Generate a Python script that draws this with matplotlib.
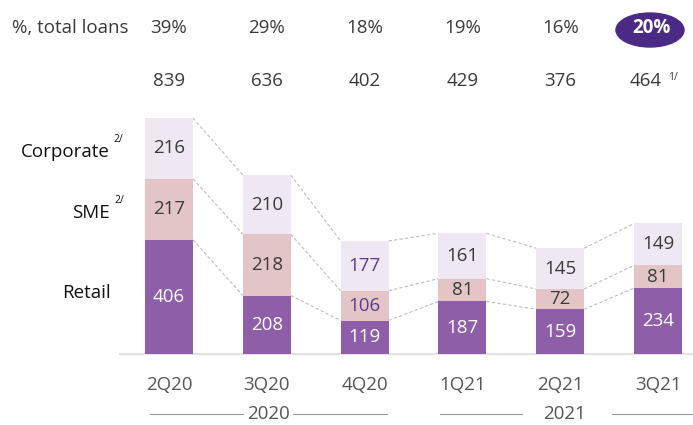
import matplotlib
matplotlib.use("Agg")
import matplotlib.pyplot as plt
from matplotlib.patches import Ellipse
import matplotlib.transforms as mtransforms

plt.rcParams['font.family'] = ['Open Sans', 'DejaVu Sans']

quarters = ["2Q20", "3Q20", "4Q20", "1Q21", "2Q21", "3Q21"]
retail = [406, 208, 119, 187, 159, 234]
sme = [217, 218, 106, 81, 72, 81]
corporate = [216, 210, 177, 161, 145, 149]
totals = [839, 636, 402, 429, 376, 464]
pct_loans = ["39%", "29%", "18%", "19%", "16%", "20%"]
series_labels = ["Retail", "SME", "Corporate"]
years = ["2020", "2021"]

c_retail = "#8F5EA8"
c_sme = "#E3C5C7"
c_corp = "#EFE8F3"
dark = "#3A3A3A"
accent = "#4B2A85"

W, H = 693, 425
fig = plt.figure(figsize=(6.93, 4.25), dpi=100)
ax = fig.add_axes([0, 0, 1, 1])
ax.set_xlim(-1.728, 5.358)
ax.set_ylim(-252.4, 1258.6)
ax.axis('off')

x = list(range(len(quarters)))
w = 0.49
ax.bar(x, retail, width=w, color=c_retail, zorder=2)
ax.bar(x, sme, width=w, bottom=retail, color=c_sme, zorder=2)
b2 = [r + s for r, s in zip(retail, sme)]
ax.bar(x, corporate, width=w, bottom=b2, color=c_corp, zorder=2)

# baseline
ax.plot([-0.5, 5.35], [0, 0], color="#E2E2E2", lw=1.5, zorder=1)

# connector lines
levels = [retail, b2, [b + c for b, c in zip(b2, corporate)]]
for lev in levels:
    for i in range(len(x) - 1):
        ax.plot([x[i] + w / 2, x[i + 1] - w / 2], [lev[i], lev[i + 1]],
                color="#BDBDBD", lw=0.8, ls=(0, (3, 2)), zorder=1)

fs = 13.5
for i in x:
    ax.text(i, retail[i] / 2, str(retail[i]), ha='center', va='center',
            color='white', fontsize=fs, zorder=3)
    col = "#5A3D8F" if i == 2 else dark
    ax.text(i, retail[i] + sme[i] / 2, str(sme[i]), ha='center', va='center',
            color=col, fontsize=fs, zorder=3)
    ax.text(i, b2[i] + corporate[i] / 2, str(corporate[i]), ha='center', va='center',
            color=col, fontsize=fs, zorder=3)

trans = mtransforms.blended_transform_factory(ax.transData, ax.transAxes)
last = len(x) - 1
for i in x:
    if i == last:
        ax.add_patch(Ellipse((i - 8 / 97.8, 1 - 30 / H), 68 / 97.8, 34 / H,
                             transform=trans, color=accent, zorder=2))
        ax.text(i - 7 / 97.8, 1 - 28 / H, pct_loans[i], transform=trans,
                ha='center', va='center', color='white', fontsize=fs,
                fontweight='bold', zorder=3)
        ax.text(i - 12 / 97.8, 1 - 81 / H, str(totals[i]), transform=trans,
                ha='center', va='center', color=dark, fontsize=fs)
    else:
        ax.text(i, 1 - 28 / H, pct_loans[i], transform=trans, ha='center',
                va='center', color=dark, fontsize=fs)
        ax.text(i, 1 - 81 / H, str(totals[i]), transform=trans, ha='center',
                va='center', color=dark, fontsize=fs)
    ax.text(i, 1 - 385 / H, quarters[i], transform=trans, ha='center',
            va='center', color="#555555", fontsize=fs)
ax.text(668 / W, 1 - 77 / H, "1/", transform=ax.transAxes, ha='left',
        va='center', color=dark, fontsize=7.5)

ax.text(12 / W, 1 - 28 / H, "%, total loans", transform=ax.transAxes,
        ha='left', va='center', color=dark, fontsize=fs)

# left series labels
lab_col = "#111111"
ax.text(110 / W, 1 - 152 / H, series_labels[2], transform=ax.transAxes,
        ha='right', va='center', color=lab_col, fontsize=fs)
ax.text(113 / W, 1 - 139 / H, "2/", transform=ax.transAxes, ha='left',
        va='center', color=lab_col, fontsize=7.5)
ax.text(110 / W, 1 - 213 / H, series_labels[1], transform=ax.transAxes,
        ha='right', va='center', color=lab_col, fontsize=fs)
ax.text(114 / W, 1 - 201 / H, "2/", transform=ax.transAxes, ha='left',
        va='center', color=lab_col, fontsize=7.5)
ax.text(111 / W, 1 - 293 / H, series_labels[0], transform=ax.transAxes,
        ha='right', va='center', color=lab_col, fontsize=fs)

# year labels with lines
yy = 1 - 414 / H
ax.text(268 / W, yy, years[0], transform=ax.transAxes, ha='center',
        va='center', color="#555555", fontsize=fs)
ax.text(565 / W, yy, years[1], transform=ax.transAxes, ha='center',
        va='center', color="#555555", fontsize=fs)
for x0, x1 in [(150, 243), (293, 387), (440, 522), (612, 693)]:
    ax.plot([x0 / W, x1 / W], [yy, yy], transform=ax.transAxes,
            color="#999999", lw=0.8)

fig.savefig("out.png", dpi=100)
